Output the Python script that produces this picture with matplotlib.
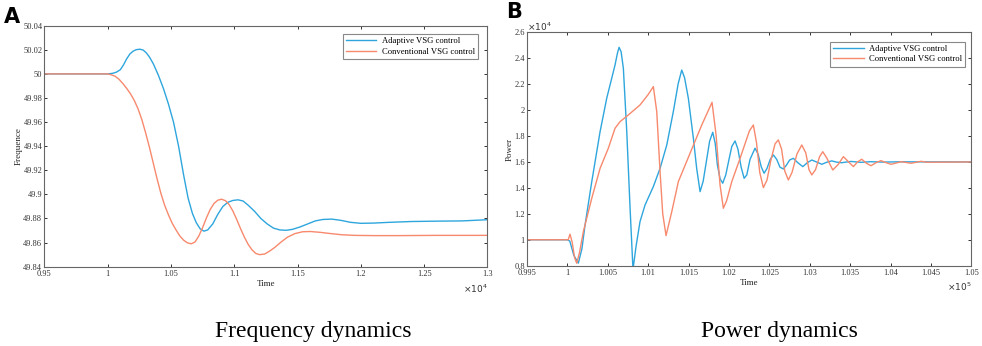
import matplotlib
matplotlib.use("Agg")
import matplotlib.pyplot as plt
from matplotlib.ticker import FormatStrFormatter

plt.rcParams['font.family'] = ['Liberation Serif', 'DejaVu Serif']

blue = '#2ea6dd'
orange = '#f7896d'
frame = '#666666'

# panel A - frequency (time in x10^4)
t_a_adapt = [0.95, 1.0, 1.004, 1.007, 1.010, 1.0125, 1.015, 1.0175, 1.020, 1.0225,
             1.0255, 1.028, 1.0305, 1.033, 1.036, 1.040, 1.044, 1.048, 1.052, 1.056,
             1.060, 1.0635, 1.067, 1.070, 1.073, 1.076, 1.079, 1.083, 1.087, 1.091,
             1.095, 1.099, 1.103, 1.107, 1.111, 1.116, 1.121, 1.126, 1.131, 1.136,
             1.141, 1.146, 1.152, 1.158, 1.164, 1.170, 1.177, 1.184, 1.192, 1.200,
             1.210, 1.222, 1.24, 1.26, 1.28, 1.3]
f_adapt = [50.0, 50.0, 50.0005, 50.0015, 50.0035, 50.0075, 50.0125, 50.0165, 50.0188, 50.0201,
           50.0205, 50.0198, 50.0175, 50.014, 50.0085, 49.999, 49.988, 49.975, 49.960, 49.940,
           49.916, 49.897, 49.884, 49.8765, 49.8715, 49.8695, 49.8705, 49.8755, 49.8835, 49.890,
           49.8935, 49.895, 49.8955, 49.8945, 49.891, 49.886, 49.880, 49.8755, 49.872, 49.8705,
           49.8702, 49.871, 49.873, 49.8755, 49.878, 49.8792, 49.8795, 49.8785, 49.8768, 49.876,
           49.8762, 49.8768, 49.8775, 49.8778, 49.878, 49.879]

t_a_conv = [0.95, 1.0, 1.003, 1.006, 1.009, 1.012, 1.015, 1.018, 1.021, 1.024,
            1.027, 1.030, 1.033, 1.036, 1.039, 1.042, 1.045, 1.048, 1.051, 1.054,
            1.057, 1.060, 1.063, 1.066, 1.069, 1.072, 1.075, 1.078, 1.081, 1.084,
            1.087, 1.090, 1.093, 1.096, 1.099, 1.102, 1.105, 1.108, 1.111, 1.114,
            1.117, 1.120, 1.124, 1.128, 1.132, 1.137, 1.142, 1.148, 1.154, 1.160,
            1.168, 1.176, 1.185, 1.195, 1.21, 1.23, 1.26, 1.3]
f_conv = [50.0, 50.0, 49.9992, 49.998, 49.9955, 49.992, 49.988, 49.9835, 49.978, 49.971,
          49.962, 49.951, 49.939, 49.926, 49.913, 49.901, 49.891, 49.883, 49.876, 49.8705,
          49.8655, 49.862, 49.8598, 49.859, 49.8605, 49.8655, 49.8725, 49.8805, 49.8875, 49.8925,
          49.8952, 49.896, 49.8948, 49.8915, 49.886, 49.879, 49.8715, 49.8645, 49.8585, 49.854,
          49.851, 49.850, 49.8505, 49.853, 49.856, 49.8605, 49.8645, 49.8675, 49.869, 49.8692,
          49.8685, 49.8675, 49.8665, 49.866, 49.8658, 49.8658, 49.866, 49.866]

# panel B - power (time in x10^5, power in x10^4)
t_b_adapt = [0.995, 1.0, 1.0003, 1.0008, 1.00136, 1.0018, 1.00219, 1.00302, 1.00405, 1.00487,
             1.0059, 1.0062, 1.0064, 1.00665, 1.00693, 1.00735, 1.00776, 1.00812, 1.0085, 1.00899,
             1.00961, 1.01064, 1.01147, 1.0123, 1.01311, 1.0137, 1.01415, 1.0145, 1.01497,
             1.01559, 1.016, 1.01642, 1.0168, 1.01724, 1.0176, 1.01799, 1.0183, 1.01856,
             1.0189, 1.01922, 1.0196, 1.02, 1.02035, 1.02075, 1.0211, 1.0215, 1.02187,
             1.0222, 1.0226, 1.02322, 1.0236, 1.024, 1.02434, 1.0247, 1.0251, 1.02549,
             1.0259, 1.0263, 1.02673, 1.0271, 1.0275, 1.02796, 1.0285, 1.02913, 1.0297,
             1.03024, 1.0309, 1.03148, 1.0321, 1.03271, 1.0333, 1.0339, 1.0351, 1.0363,
             1.0375, 1.039, 1.041, 1.05]
p_adapt = [1.0, 1.0, 0.99, 0.88, 0.82, 0.93, 1.114, 1.448, 1.834, 2.091,
           2.348, 2.44, 2.484, 2.45, 2.322, 1.834, 1.243, 0.77, 0.95, 1.14,
           1.268, 1.41, 1.551, 1.731, 1.988, 2.2, 2.309, 2.25, 2.091,
           1.783, 1.55, 1.371, 1.45, 1.62, 1.76, 1.829, 1.74, 1.577,
           1.47, 1.436, 1.50, 1.62, 1.72, 1.762, 1.70, 1.56, 1.474,
           1.50, 1.62, 1.706, 1.66, 1.56, 1.513, 1.55, 1.62, 1.654,
           1.62, 1.56, 1.546, 1.575, 1.615, 1.628, 1.595, 1.564, 1.595,
           1.615, 1.598, 1.582, 1.598, 1.608, 1.599, 1.594, 1.604, 1.597,
           1.602, 1.599, 1.601, 1.6]

t_b_conv = [0.995, 1.0001, 1.00033, 1.0006, 1.0009, 1.00116, 1.0015, 1.00198, 1.00302, 1.00405,
            1.00507, 1.0059, 1.00652, 1.0075, 1.009, 1.01, 1.01064, 1.01106, 1.01147, 1.0118,
            1.01221, 1.01292, 1.01373, 1.01518, 1.01663, 1.0179, 1.0184, 1.01889, 1.0193,
            1.0197, 1.02034, 1.02137, 1.02252, 1.02301, 1.0234, 1.0238, 1.02425, 1.0247,
            1.0252, 1.0257, 1.0261, 1.0265, 1.0269, 1.02734, 1.0278, 1.0284, 1.029, 1.0295,
            1.0299, 1.03024, 1.0307, 1.0312, 1.0316, 1.0321, 1.03284, 1.0335, 1.03415,
            1.0348, 1.03539, 1.0359, 1.03642, 1.037, 1.03757, 1.0382, 1.0388, 1.0394,
            1.04005, 1.0407, 1.04129, 1.0419, 1.04253, 1.0432, 1.04377, 1.0444, 1.045, 1.05]
p_conv = [1.0, 1.0, 1.043, 0.98, 0.86, 0.819, 0.90, 1.063, 1.32, 1.551,
          1.706, 1.86, 1.911, 1.96, 2.04, 2.12, 2.181, 1.988, 1.525, 1.2,
          1.032, 1.217, 1.448, 1.667, 1.885, 2.06, 1.808, 1.423, 1.243,
          1.30, 1.448, 1.628, 1.839, 1.885, 1.75, 1.52, 1.402, 1.46,
          1.62, 1.74, 1.77, 1.70, 1.53, 1.461, 1.52, 1.66, 1.731, 1.67,
          1.54, 1.50, 1.54, 1.64, 1.679, 1.63, 1.538, 1.58, 1.641,
          1.60, 1.564, 1.60, 1.621, 1.59, 1.571, 1.595, 1.61, 1.595,
          1.582, 1.592, 1.602, 1.596, 1.59, 1.598, 1.605, 1.598, 1.598, 1.6]

xt_a = [0.95, 1.0, 1.05, 1.1, 1.15, 1.2, 1.25, 1.3]
yt_a = [49.84, 49.86, 49.88, 49.9, 49.92, 49.94, 49.96, 49.98, 50.0, 50.02, 50.04]
xt_b = [0.995, 1.0, 1.005, 1.01, 1.015, 1.02, 1.025, 1.03, 1.035, 1.04, 1.045, 1.05]
yt_b = [0.8, 1.0, 1.2, 1.4, 1.6, 1.8, 2.0, 2.2, 2.4, 2.6]

fig = plt.figure(figsize=(9.82, 3.46), dpi=100)
ax1 = fig.add_axes([0.0452, 0.2292, 0.4512, 0.6965])
ax2 = fig.add_axes([0.5366, 0.2321, 0.4527, 0.6746])


def style(ax, xt, yt):
    ax.set_xticks(xt)
    ax.set_yticks(yt)
    ax.xaxis.set_major_formatter(FormatStrFormatter('%g'))
    ax.yaxis.set_major_formatter(FormatStrFormatter('%g'))
    ax.tick_params(direction='in', top=True, right=True, length=2.5, width=0.7,
                   labelsize=6, colors='#333333')
    ax.tick_params(axis='x', pad=2.5)
    ax.tick_params(axis='y', pad=1.5)
    for s in ax.spines.values():
        s.set_color(frame)
        s.set_linewidth(0.8)


ax1.plot(t_a_adapt, f_adapt, color=blue, lw=1.0, label='Adaptive VSG control')
ax1.plot(t_a_conv, f_conv, color=orange, lw=1.0, label='Conventional VSG control')
ax1.set_xlim(0.95, 1.3)
ax1.set_ylim(49.84, 50.04)
style(ax1, xt_a, yt_a)
ax1.set_xlabel('Time', fontsize=6.5, labelpad=1.5, color='#222222')
ax1.set_ylabel('Frequence', fontsize=6.5, labelpad=0, color='#222222')
ax1.text(1.0, -0.065, r'$\times10^{4}$', transform=ax1.transAxes, ha='right', va='top',
         fontsize=6.5, color='#333333')
leg1 = ax1.legend(loc='upper right', bbox_to_anchor=(0.979, 0.966), fontsize=6.2,
                  fancybox=False, edgecolor='#888888', framealpha=1, handlelength=3.5,
                  borderpad=0.4, labelspacing=0.25, handletextpad=0.6, borderaxespad=0)
leg1.get_frame().set_linewidth(0.8)

ax2.plot(t_b_adapt, p_adapt, color=blue, lw=1.0, label='Adaptive VSG control')
ax2.plot(t_b_conv, p_conv, color=orange, lw=1.0, label='Conventional VSG control')
ax2.set_xlim(0.995, 1.05)
ax2.set_ylim(0.8, 2.6)
style(ax2, xt_b, yt_b)
ax2.set_xlabel('Time', fontsize=6.5, labelpad=1.5, color='#222222')
ax2.set_ylabel('Power', fontsize=6.5, labelpad=0.5, color='#222222')
ax2.text(1.0, -0.065, r'$\times10^{5}$', transform=ax2.transAxes, ha='right', va='top',
         fontsize=6.5, color='#333333')
ax2.text(0.0, 0.995, r'$\times10^{4}$', transform=ax2.transAxes, ha='left', va='bottom',
         fontsize=6.5, color='#333333')
leg2 = ax2.legend(loc='upper right', bbox_to_anchor=(0.986, 0.96), fontsize=6.2,
                  fancybox=False, edgecolor='#888888', framealpha=1, handlelength=3.5,
                  borderpad=0.4, labelspacing=0.25, handletextpad=0.6, borderaxespad=0)
leg2.get_frame().set_linewidth(0.8)

fig.text(0.004, 0.98, 'A', fontsize=15, fontweight='bold', family='DejaVu Sans',
         ha='left', va='top')
fig.text(0.515, 0.995, 'B', fontsize=15, fontweight='bold', family='DejaVu Sans',
         ha='left', va='top')

fig.text(313 / 982, 1 - 332 / 346, 'Frequency dynamics', fontsize=17, ha='center', va='center')
fig.text(779 / 982, 1 - 332 / 346, 'Power dynamics', fontsize=17, ha='center', va='center')

fig.savefig('out.png', dpi=100)
